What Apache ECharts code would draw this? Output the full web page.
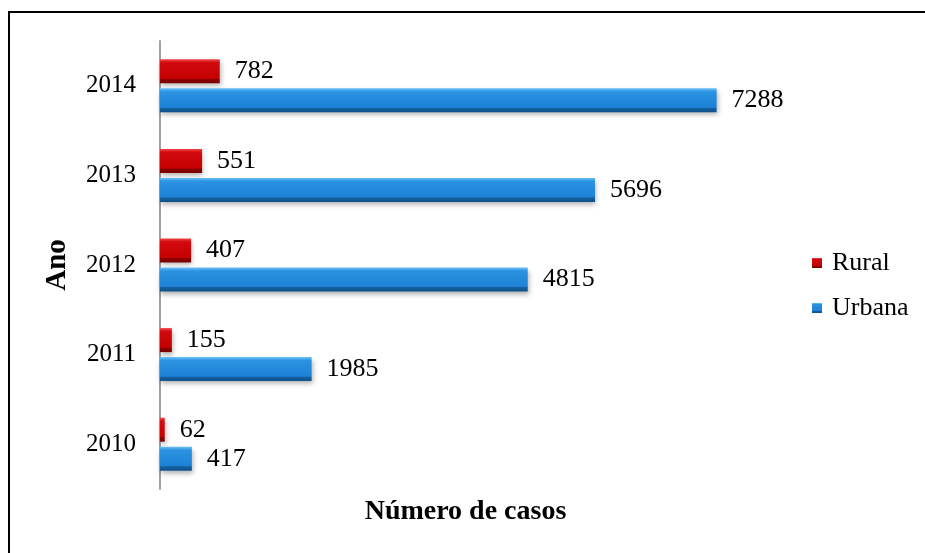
<!DOCTYPE html>
<html>
<head>
<meta charset="utf-8">
<script src="https://cdn.jsdelivr.net/npm/echarts@6/dist/echarts.min.js"></script>
<style>
html, body { margin: 0; padding: 0; background: #fff; }
#main { width: 925px; height: 553px; }
</style>
</head>
<body>
<div id="main"></div>
<script>
var years = ['2010', '2011', '2012', '2013', '2014'];
var rural = [62, 155, 407, 551, 782];
var urbana = [417, 1985, 4815, 5696, 7288];

var serif = "'Liberation Serif', 'Times New Roman', serif";

// gradiente vertical para imitar o bisel das barras
function bevel(light, main, mid, edge, dark) {
    return new echarts.graphic.LinearGradient(0, 0, 0, 1, [
        { offset: 0, color: light },
        { offset: 0.14, color: main },
        { offset: 0.8, color: mid },
        { offset: 0.83, color: edge },
        { offset: 1, color: dark }
    ]);
}

var barShadow = {
    shadowBlur: 5,
    shadowOffsetX: 1,
    shadowOffsetY: 3,
    shadowColor: 'rgba(0,0,0,0.3)'
};

var myChart = echarts.init(document.getElementById('main'));
var option = {
    animation: false,
    backgroundColor: '#fff',
    textStyle: { fontFamily: serif },
    graphic: [{
        type: 'rect',
        shape: { x: 9, y: 12, width: 940, height: 560 },
        style: { fill: 'none', stroke: '#000', lineWidth: 2 },
        silent: true
    }],
    legend: {
        orient: 'vertical',
        left: 812,
        top: 250,
        padding: 0,
        icon: 'rect',
        itemWidth: 10,
        itemHeight: 10,
        itemGap: 19,
        textStyle: { fontFamily: serif, fontSize: 26, color: '#000', padding: [0, 0, 0, 5] },
        data: ['Rural', 'Urbana']
    },
    grid: { left: 160, right: 154, top: 41, bottom: 64 },
    xAxis: {
        type: 'value',
        min: 0,
        max: 8000,
        name: 'Número de casos',
        nameLocation: 'middle',
        nameGap: 9,
        nameTextStyle: { fontFamily: serif, fontSize: 28, fontWeight: 'bold', color: '#000', verticalAlign: 'top' },
        axisLine: { show: false },
        axisTick: { show: false },
        axisLabel: { show: false },
        splitLine: { show: false }
    },
    yAxis: {
        type: 'category',
        data: years,
        name: 'Ano',
        nameLocation: 'middle',
        nameGap: 88,
        nameTextStyle: { fontFamily: serif, fontSize: 29, fontWeight: 'bold', color: '#000' },
        axisLine: { lineStyle: { color: '#a0a0a0', width: 2 } },
        axisTick: { show: false },
        axisLabel: { fontFamily: serif, fontSize: 25, color: '#000', margin: 24 }
    },
    series: [{
        name: 'Rural',
        type: 'bar',
        data: rural,
        barWidth: 24,
        barGap: '21%',
        itemStyle: Object.assign({
            color: bevel('#f4474b', '#d20a0f', '#c40000', '#8e0000', '#7a0000')
        }, barShadow),
        label: { show: true, position: 'right', distance: 15, fontFamily: serif, fontSize: 26, color: '#000' }
    }, {
        name: 'Urbana',
        type: 'bar',
        data: urbana,
        barWidth: 24,
        barGap: '21%',
        itemStyle: Object.assign({
            color: bevel('#6ac2f8', '#2b93e2', '#1d82d6', '#13609f', '#0f5089')
        }, barShadow),
        label: { show: true, position: 'right', distance: 15, fontFamily: serif, fontSize: 26, color: '#000' }
    }]
};
myChart.setOption(option, true);
</script>
</body>
</html>
